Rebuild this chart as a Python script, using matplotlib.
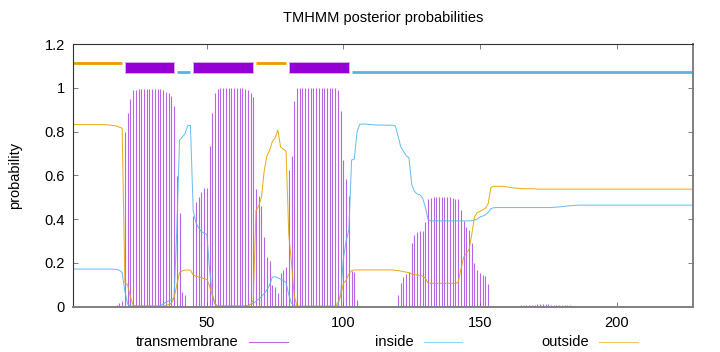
import matplotlib
matplotlib.use("Agg")
import matplotlib.pyplot as plt
from matplotlib.patches import Rectangle
from matplotlib.lines import Line2D

plt.rcParams['font.family'] = ['Liberation Sans', 'DejaVu Sans']

# residue numbers 1..228
residues = list(range(1, 229))

# posterior probability of transmembrane (impulses)
tm_prob = [
    0, 0, 0, 0, 0, 0, 0, 0, 0, 0,
    0, 0, 0.002, 0.003, 0.003, 0.005, 0.009, 0.018, 0.026, 0.797,
    0.885, 0.951, 0.988, 0.992, 0.995, 0.995, 0.995, 0.995, 0.995, 0.995,
    0.995, 0.995, 0.995, 0.992, 0.98, 0.974, 0.962, 0.919, 0.595, 0.43,
    0.069, 0.053, 0.005, 0.004, 0.415, 0.476, 0.50, 0.522, 0.54, 0.544,
    0.736, 0.885, 0.974, 0.995, 0.999, 0.999, 0.999, 0.999, 0.999, 0.999,
    0.999, 0.999, 0.999, 0.995, 0.99, 0.974, 0.959, 0.537, 0.507, 0.458,
    0.32, 0.229, 0.21, 0.10, 0.09, 0.061, 0.156, 0.168, 0.18, 0.623,
    0.69, 0.939, 0.997, 0.999, 0.999, 0.999, 0.999, 0.999, 0.999, 0.999,
    0.999, 0.999, 0.999, 0.999, 0.999, 0.999, 0.999, 0.99, 0.893, 0.672,
    0.583, 0.504, 0.165, 0.16, 0.03, 0.001, 0.001, 0.001, 0.002, 0.003,
    0.003, 0.003, 0.003, 0.003, 0.003, 0.003, 0.003, 0.003, 0.003, 0.053,
    0.11, 0.134, 0.15, 0.16, 0.29, 0.328, 0.339, 0.345, 0.348, 0.389,
    0.49, 0.496, 0.50, 0.502, 0.503, 0.503, 0.503, 0.502, 0.50, 0.497,
    0.494, 0.49, 0.443, 0.39, 0.363, 0.351, 0.29, 0.198, 0.168, 0.153,
    0.145, 0.14, 0.105, 0.001, 0, 0, 0, 0, 0, 0.001,
    0.002, 0.003, 0.004, 0.005, 0.006, 0.007, 0.008, 0.009, 0.01, 0.01,
    0.011, 0.011, 0.011, 0.011, 0.011, 0.01, 0.01, 0.01, 0.009, 0.009,
    0.008, 0.007, 0.006, 0.004, 0.003, 0.002, 0, 0, 0, 0,
    0, 0, 0, 0, 0, 0, 0, 0, 0, 0,
    0, 0, 0, 0, 0, 0, 0, 0, 0, 0,
    0, 0, 0, 0, 0, 0, 0, 0, 0, 0,
    0, 0, 0, 0, 0, 0, 0, 0,
]

# posterior probability of inside
inside_prob = [
    0.172, 0.172, 0.172, 0.172, 0.172, 0.172, 0.172, 0.172, 0.172, 0.172,
    0.172, 0.172, 0.172, 0.172, 0.172, 0.171, 0.17, 0.166, 0.156, 0.07,
    0.012, 0.004, 0.003, 0.003, 0.003, 0.003, 0.003, 0.003, 0.003, 0.003,
    0.003, 0.003, 0.005, 0.012, 0.02, 0.026, 0.032, 0.04, 0.35, 0.76,
    0.775, 0.79, 0.827, 0.828, 0.44, 0.385, 0.36, 0.343, 0.336, 0.331,
    0.17, 0.06, 0.012, 0.003, 0.003, 0.003, 0.003, 0.003, 0.003, 0.003,
    0.003, 0.003, 0.003, 0.004, 0.006, 0.01, 0.015, 0.025, 0.035, 0.046,
    0.06, 0.077, 0.1, 0.135, 0.137, 0.132, 0.126, 0.12, 0.11, 0.055,
    0.015, 0.005, 0.002, 0.002, 0.002, 0.002, 0.002, 0.002, 0.002, 0.002,
    0.002, 0.002, 0.002, 0.002, 0.002, 0.002, 0.002, 0.005, 0.06, 0.22,
    0.3, 0.35, 0.67, 0.675, 0.8, 0.833, 0.834, 0.834, 0.833, 0.832,
    0.831, 0.83, 0.83, 0.83, 0.83, 0.829, 0.829, 0.829, 0.826, 0.78,
    0.73, 0.71, 0.69, 0.68, 0.56, 0.527, 0.515, 0.512, 0.497, 0.455,
    0.398, 0.392, 0.392, 0.392, 0.392, 0.392, 0.392, 0.392, 0.392, 0.392,
    0.392, 0.392, 0.392, 0.392, 0.392, 0.392, 0.393, 0.396, 0.40, 0.41,
    0.414, 0.42, 0.43, 0.448, 0.452, 0.453, 0.453, 0.453, 0.453, 0.453,
    0.453, 0.453, 0.453, 0.453, 0.453, 0.453, 0.453, 0.453, 0.453, 0.453,
    0.453, 0.453, 0.453, 0.453, 0.453, 0.453, 0.454, 0.455, 0.456, 0.457,
    0.458, 0.46, 0.461, 0.462, 0.463, 0.464, 0.464, 0.464, 0.464, 0.464,
    0.464, 0.464, 0.464, 0.464, 0.464, 0.464, 0.464, 0.464, 0.464, 0.464,
    0.464, 0.464, 0.464, 0.464, 0.464, 0.464, 0.464, 0.464, 0.464, 0.464,
    0.464, 0.464, 0.464, 0.464, 0.464, 0.464, 0.464, 0.464, 0.464, 0.464,
    0.464, 0.464, 0.464, 0.464, 0.464, 0.464, 0.464, 0.464,
]

# posterior probability of outside
outside_prob = [
    0.832, 0.832, 0.832, 0.832, 0.832, 0.832, 0.832, 0.832, 0.832, 0.832,
    0.832, 0.832, 0.831, 0.83, 0.829, 0.827, 0.825, 0.82, 0.815, 0.111,
    0.1, 0.045, 0.008, 0.003, 0.003, 0.003, 0.003, 0.003, 0.003, 0.003,
    0.003, 0.003, 0.003, 0.003, 0.005, 0.01, 0.015, 0.04, 0.1, 0.155,
    0.164, 0.167, 0.168, 0.167, 0.145, 0.139, 0.136, 0.133, 0.128, 0.125,
    0.094, 0.05, 0.012, 0.003, 0.003, 0.003, 0.003, 0.003, 0.003, 0.003,
    0.003, 0.003, 0.003, 0.003, 0.003, 0.01, 0.03, 0.44, 0.46, 0.50,
    0.62, 0.69, 0.715, 0.755, 0.77, 0.807, 0.73, 0.72, 0.71, 0.33,
    0.2, 0.05, 0.003, 0.002, 0.002, 0.002, 0.002, 0.002, 0.002, 0.002,
    0.002, 0.002, 0.002, 0.002, 0.002, 0.002, 0.002, 0.02, 0.05, 0.107,
    0.12, 0.15, 0.165, 0.168, 0.168, 0.168, 0.168, 0.168, 0.168, 0.168,
    0.168, 0.168, 0.168, 0.168, 0.168, 0.168, 0.168, 0.168, 0.166, 0.165,
    0.163, 0.16, 0.158, 0.155, 0.15, 0.146, 0.145, 0.143, 0.14, 0.13,
    0.108, 0.107, 0.107, 0.107, 0.107, 0.107, 0.107, 0.107, 0.107, 0.107,
    0.107, 0.11, 0.17, 0.225, 0.245, 0.26, 0.33, 0.41, 0.43, 0.435,
    0.443, 0.45, 0.47, 0.545, 0.55, 0.55, 0.55, 0.55, 0.549, 0.547,
    0.545, 0.543, 0.542, 0.541, 0.54, 0.539, 0.539, 0.539, 0.539, 0.539,
    0.537, 0.537, 0.537, 0.537, 0.537, 0.537, 0.537, 0.537, 0.537, 0.537,
    0.537, 0.537, 0.537, 0.537, 0.537, 0.537, 0.537, 0.537, 0.537, 0.537,
    0.537, 0.537, 0.537, 0.537, 0.537, 0.537, 0.537, 0.537, 0.537, 0.537,
    0.537, 0.537, 0.537, 0.537, 0.537, 0.537, 0.537, 0.537, 0.537, 0.537,
    0.537, 0.537, 0.537, 0.537, 0.537, 0.537, 0.537, 0.537, 0.537, 0.537,
    0.537, 0.537, 0.537, 0.537, 0.537, 0.537, 0.537, 0.537,
]

# predicted topology (top track)
topo_start = [1, 20, 39, 45, 68, 80, 103]
topo_end = [19, 38, 44, 67, 79, 102, 228]
topo_type = ['outside', 'TMhelix', 'inside', 'TMhelix', 'outside', 'TMhelix', 'inside']

x_ticks = [50, 100, 150, 200]
y_ticks = [0, 0.2, 0.4, 0.6, 0.8, 1, 1.2]
y_tick_labels = ['0', '0.2', '0.4', '0.6', '0.8', '1', '1.2']
legend_labels = ['transmembrane', 'inside', 'outside']

C_TM = '#9400d3'
C_IN = '#56b4e9'
C_OUT = '#e69f00'
FS = 10.5

W, H = 720, 352
fig = plt.figure(figsize=(W / 100, H / 100), dpi=100)
ax = fig.add_axes([73 / W, (H - 306.7) / H, (693 - 73) / W, (306.7 - 44) / H])

ax.vlines(residues, 0, tm_prob, colors='#a43fe0', linewidth=0.8, alpha=0.8)
ax.plot(residues, inside_prob, color=C_IN, linewidth=0.75, alpha=0.85)
ax.plot(residues, outside_prob, color=C_OUT, linewidth=0.75, alpha=0.85)

for s, e, t in zip(topo_start, topo_end, topo_type):
    if t == 'TMhelix':
        ax.add_patch(Rectangle((s, 1.068), e - s, 0.052, facecolor=C_TM,
                               edgecolor='#d9a8f2', linewidth=0.7))
    elif t == 'inside':
        ax.hlines(1.072, s, e, colors=C_IN, linewidth=2.0)
    else:
        ax.hlines(1.112, s, e, colors=C_OUT, linewidth=2.0)

ax.set_xlim(1, 228)
ax.set_ylim(0, 1.2)
ax.set_xticks(x_ticks)
ax.set_yticks(y_ticks)
ax.set_yticklabels(y_tick_labels)
ax.tick_params(direction='in', top=True, right=True, length=3.5, width=0.7,
               color='#808080', labelsize=FS, labelcolor='black')
ax.tick_params(axis='x', pad=6.5)
ax.tick_params(axis='y', pad=6)

for side in ['left', 'top']:
    ax.spines[side].set_color('#333333')
    ax.spines[side].set_linewidth(0.8)
for side in ['bottom', 'right']:
    ax.spines[side].set_color('#808080')
    ax.spines[side].set_linewidth(1.4)

fig.text(383 / W, (H - 18) / H, 'TMHMM posterior probabilities', ha='center',
         va='center', fontsize=FS)
fig.text(15 / W, (H - 175) / H, 'probability', rotation=90, ha='center',
         va='center', fontsize=FS)

ly = (H - 342) / H
text_right = [238.5, 414, 589]
line_x = [(249, 288), (424, 462), (599, 638)]
for lab, tr, (l0, l1), c in zip(legend_labels, text_right, line_x, [C_TM, C_IN, C_OUT]):
    fig.text(tr / W, ly, lab, ha='right', va='center', fontsize=FS)
    fig.add_artist(Line2D([l0 / W, l1 / W], [ly, ly], color=c, linewidth=0.8,
                          alpha=0.6, transform=fig.transFigure))

fig.savefig('out.png', dpi=100)
